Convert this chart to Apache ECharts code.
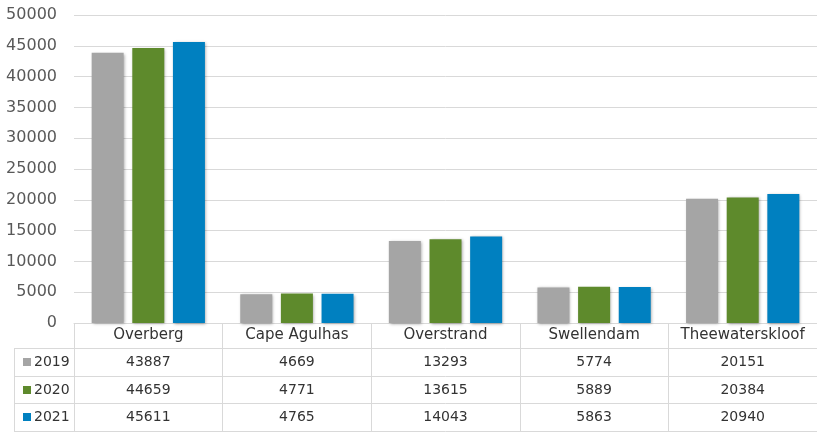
<!DOCTYPE html>
<html>
<head>
<meta charset="utf-8">
<script src="https://cdn.jsdelivr.net/npm/echarts@6/dist/echarts.min.js"></script>
<style>
  html, body { margin: 0; padding: 0; background: #fff; }
  #chart { width: 817px; height: 432px; }
</style>
</head>
<body>
<div id="chart"></div>
<script>
// municipalities along the x-axis, one value row per year
const categories = ['Overberg', 'Cape Agulhas', 'Overstrand', 'Swellendam', 'Theewaterskloof'];
const years = ['2019', '2020', '2021'];
const values2019 = [43887, 4669, 13293, 5774, 20151];
const values2020 = [44659, 4771, 13615, 5889, 20384];
const values2021 = [45611, 4765, 14043, 5863, 20940];
const colors = ['#a5a5a5', '#5e8a2c', '#0080c0'];

const rows = [values2019, values2020, values2021];
const LINE = '#d9d9d9';
const TEXT = '#333333';
const FONT = '"DejaVu Sans", sans-serif';

// table geometry (pixels)
const gridLeft = 74;
const axisY = 323;
const rowTops = [348, 376, 403];
const tableBottom = 431;

const chart = echarts.init(document.getElementById('chart'), null, { renderer: 'canvas' });

// the data table rows are extra category axes stacked under the plot
const valueAxes = rows.map((vals, r) => ({
  type: 'category',
  data: categories,
  position: 'bottom',
  offset: rowTops[r] - axisY,
  axisLine: { show: true, lineStyle: { color: LINE, width: 1 } },
  axisTick: { show: false },
  axisLabel: {
    interval: 0,
    margin: 7,
    fontFamily: FONT,
    fontSize: 14,
    color: TEXT,
    formatter: (v, i) => String(vals[i]),
  },
}));

// one legend per table row so each key sits in its own row
const legends = years.map((y, r) => ({
  left: 18,
  top: rowTops[r] + 2,
  itemWidth: 8,
  itemHeight: 8,
  icon: 'rect',
  selectedMode: false,
  textStyle: { fontFamily: FONT, fontSize: 14, color: TEXT, padding: [0, 0, 0, -2] },
  data: [y],
}));

const option = {
  animation: false,
  backgroundColor: '#fff',
  grid: { left: gridLeft, right: -5, top: 15, bottom: 432 - axisY, containLabel: false },
  legend: legends,
  xAxis: [
    {
      type: 'category',
      data: categories,
      position: 'bottom',
      axisLine: { show: true, lineStyle: { color: LINE, width: 1 } },
      axisTick: { show: true, interval: 0, length: tableBottom - axisY, lineStyle: { color: LINE, width: 1 } },
      axisLabel: { interval: 0, margin: 5, fontFamily: FONT, fontSize: 15, color: TEXT },
    },
    ...valueAxes,
    {
      type: 'category',
      data: categories,
      position: 'bottom',
      offset: tableBottom - axisY,
      axisLine: { show: true, lineStyle: { color: LINE, width: 1 } },
      axisTick: { show: false },
      axisLabel: { show: false },
    },
  ],
  yAxis: {
    type: 'value',
    min: 0,
    max: 50000,
    interval: 5000,
    axisLine: { show: false },
    axisTick: { show: false },
    axisLabel: { margin: 17, fontFamily: FONT, fontSize: 16, color: '#595959', formatter: (v) => String(v) },
    splitLine: { lineStyle: { color: LINE, width: 1 } },
  },
  series: rows.map((vals, r) => ({
    name: years[r],
    type: 'bar',
    xAxisIndex: 0,
    barWidth: 32,
    barGap: '27%',
    data: vals,
    itemStyle: {
      color: colors[r],
      shadowBlur: 3,
      shadowColor: 'rgba(0,0,0,0.35)',
      shadowOffsetX: 1,
      shadowOffsetY: 1,
    },
  })),
  // left column of the table (legend keys) borders
  graphic: [
    { type: 'line', shape: { x1: 14.5, y1: rowTops[0], x2: 14.5, y2: tableBottom }, style: { stroke: LINE, lineWidth: 1 } },
    ...rowTops.concat([tableBottom]).map((y) => ({
      type: 'line',
      shape: { x1: 14, y1: y + 0.5, x2: gridLeft, y2: y + 0.5 },
      style: { stroke: LINE, lineWidth: 1 },
    })),
  ],
};

chart.setOption(option);
</script>
</body>
</html>
